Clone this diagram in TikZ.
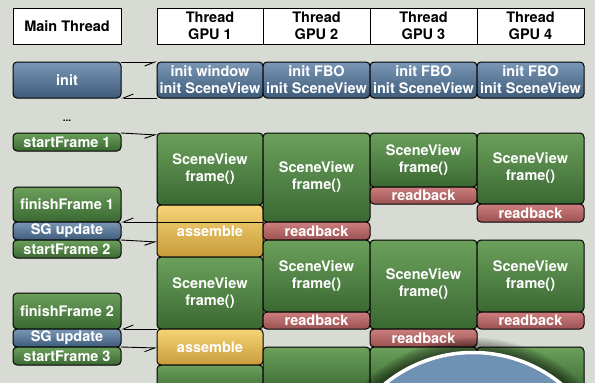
\documentclass[tikz,border=0pt]{standalone}
\usepackage{fontspec}
\setmainfont{TeX Gyre Heros}
\usetikzlibrary{arrows.meta}
\definecolor{bg}{RGB}{216,218,212}
\definecolor{Gt}{RGB}{108,160,92}
\definecolor{Gm}{RGB}{66,114,56}
\definecolor{Gb}{RGB}{58,104,50}
\definecolor{Bt}{RGB}{122,152,182}
\definecolor{Bm}{RGB}{80,110,140}
\definecolor{Bb}{RGB}{62,92,122}
\definecolor{Rt}{RGB}{205,125,125}
\definecolor{Rm}{RGB}{170,92,92}
\definecolor{Rb}{RGB}{155,82,82}
\definecolor{At}{RGB}{246,212,118}
\definecolor{Am}{RGB}{215,170,70}
\definecolor{Ab}{RGB}{200,155,58}
\definecolor{Cb}{RGB}{110,145,180}
\tikzset{
  blk/.style={draw=black, line width=1pt, rounded corners=4pt, text=white,
    font=\bfseries\fontsize{14.5}{17}\selectfont, align=center,
    inner sep=0pt, outer sep=0pt, anchor=north west},
  grn/.style={blk, top color=Gt, middle color=Gm, bottom color=Gb},
  blu/.style={blk, top color=Bt, middle color=Bm, bottom color=Bb},
  red/.style={blk, top color=Rt, middle color=Rm, bottom color=Rb},
  gld/.style={blk, top color=At, middle color=Am, bottom color=Ab},
  hdr/.style={draw=black, line width=1pt, fill=white, text=black,
    font=\bfseries\fontsize{14.5}{17.5}\selectfont, align=center,
    inner sep=0pt, outer sep=0pt, anchor=north west},
  harp/.style={line width=0.9pt, -{Straight Barb[right,length=10pt,width=8pt]}},
}
\newcommand\bx[7]{\node[#6,minimum width=#4pt,minimum height=#5pt] (#1) at (#2,#3) {#7};}
\begin{document}
\begin{tikzpicture}[x=1pt,y=-1pt]
\useasboundingbox (0,0) rectangle (595,383);
\fill[bg] (0,0) rectangle (595,383);
\clip (0,0) rectangle (595,383);
% headers
\bx{hm}{13}{8}{108}{36}{hdr}{Main Thread}
\bx{h1}{157}{8}{106}{36}{hdr}{Thread\\GPU 1}
\bx{h2}{263}{8}{107}{36}{hdr}{Thread\\GPU 2}
\bx{h3}{370}{8}{107}{36}{hdr}{Thread\\GPU 3}
\bx{h4}{477}{8}{107}{36}{hdr}{Thread\\GPU 4}
% init row
\bx{im}{13}{62}{108}{36}{blu}{init}
\bx{i1}{157}{62}{106}{36}{blu}{init window\\init SceneView}
\bx{i2}{263}{62}{107}{36}{blu}{init FBO\\init SceneView}
\bx{i3}{370}{62}{107}{36}{blu}{init FBO\\init SceneView}
\bx{i4}{477}{62}{107}{36}{blu}{init FBO\\init SceneView}
\node[font=\bfseries\fontsize{10}{12}\selectfont, anchor=base, inner sep=0pt] (dots) at (67,121) {...};
% main thread
\bx{sf1}{13}{133}{108}{18}{grn}{startFrame 1}
\bx{ff1}{13}{187}{108}{35}{grn}{finishFrame 1}
\bx{sg1}{13}{222}{108}{18}{blu}{SG update}
\bx{sf2}{13}{240}{108}{18}{grn}{startFrame 2}
\bx{ff2}{13}{293}{108}{36}{grn}{finishFrame 2}
\bx{sg2}{13}{329}{108}{18}{blu}{SG update}
\bx{sf3}{13}{347}{108}{18}{grn}{startFrame 3}
% GPU 1
\bx{f11}{157}{133}{106}{72}{grn}{SceneView\\frame()}
\bx{a11}{157}{205}{106}{52}{gld}{assemble}
\bx{f12}{157}{257}{106}{72}{grn}{SceneView\\frame()}
\bx{a12}{157}{329}{106}{36}{gld}{assemble}
\bx{f13}{157}{365}{106}{30}{grn}{}
% GPU 2
\bx{f21}{263}{133}{107}{89}{grn}{SceneView\\frame()}
\bx{r21}{263}{222}{107}{18}{red}{readback}
\bx{f22}{263}{240}{107}{72}{grn}{SceneView\\frame()}
\bx{r22}{263}{312}{107}{17}{red}{readback}
\bx{f23}{263}{347}{107}{45}{grn}{}
% GPU 3
\bx{f31}{370}{133}{107}{54}{grn}{SceneView\\frame()}
\bx{r31}{370}{187}{107}{17}{red}{readback}
\bx{f32}{370}{240}{107}{89}{grn}{SceneView\\frame()}
\bx{r32}{370}{329}{107}{18}{red}{readback}
\bx{f33}{370}{347}{107}{45}{grn}{}
% GPU 4
\bx{f41}{477}{133}{107}{71}{grn}{SceneView\\frame()}
\bx{r41}{477}{204}{107}{18}{red}{readback}
\bx{f42}{477}{240}{107}{72}{grn}{SceneView\\frame()}
\bx{r42}{477}{312}{107}{17}{red}{readback}
\bx{f43}{477}{347}{107}{45}{grn}{}
% arrows
\draw[harp] (im.north east) -- (i1.north west);
\draw[harp] (i1.south west) -- (im.south east);
\draw[harp] (sf1.north east) -- ([yshift=-2pt]f11.north west);
\draw[harp] (f21.south west) -- (ff1.south east);
\draw[harp] (sf2.north east) -- ([yshift=-2pt]a11.west |- sf2.north east);
\draw[harp] (f12.south west) -- (ff2.south east);
\draw[harp] (sf3.north east) -- ([yshift=-1pt]a12.west |- sf3.north east);
% disk with soft shadow
\foreach \r in {154,152,150,148,146,144,142}
  \fill[black, opacity=0.09] (473,492) circle[radius=\r];
\node[circle, draw=white, line width=3.5pt, fill=Cb, minimum size=279pt, inner sep=0pt] (disk) at (473,492) {};
\end{tikzpicture}
\end{document}
